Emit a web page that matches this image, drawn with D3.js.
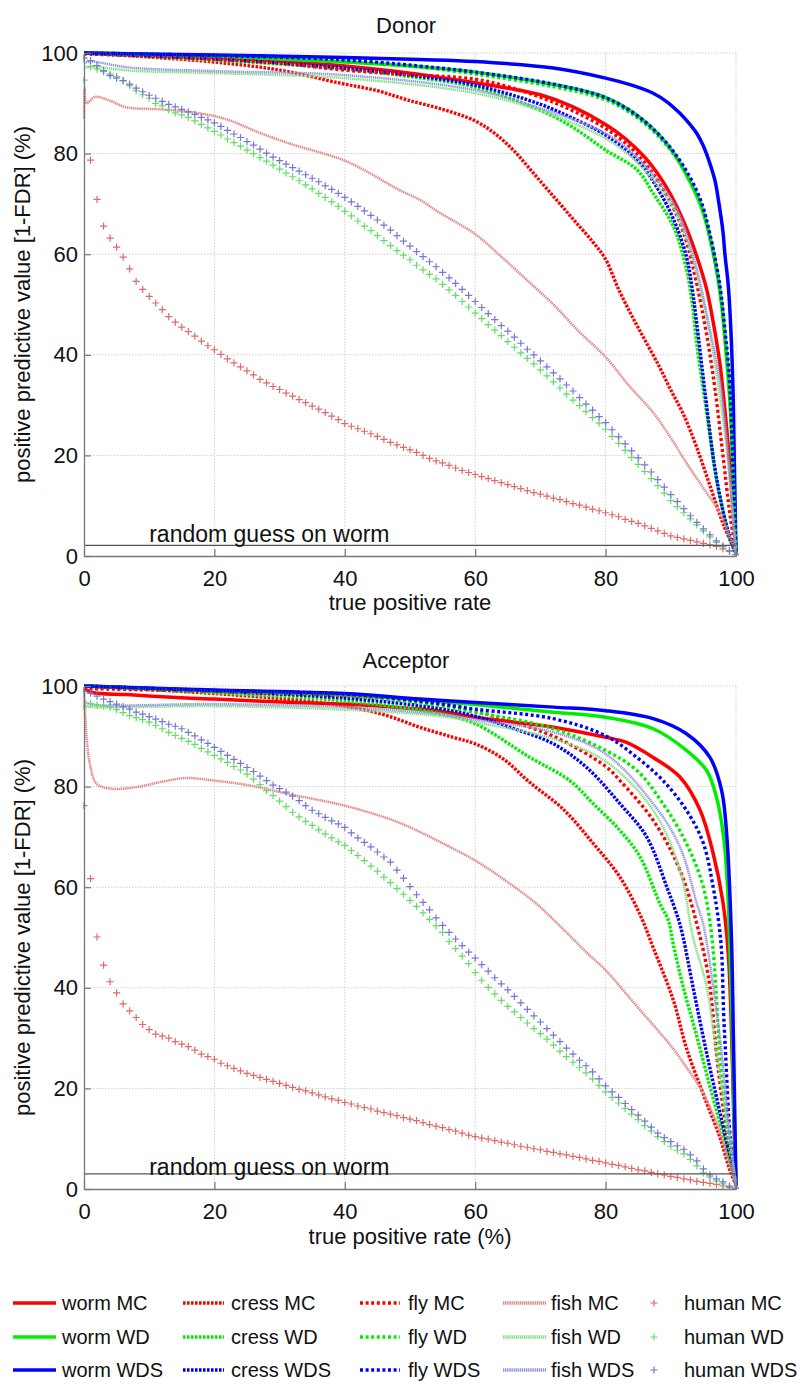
<!DOCTYPE html>
<html>
<head>
<meta charset="utf-8">
<script src="https://cdn.jsdelivr.net/npm/d3@7"></script>
<style>
body { margin: 0; background: #fff; }
text { font-family: "Liberation Sans", Arial, sans-serif; fill: #111; }
</style>
</head>
<body>
<div id="chart"></div>
<script>
// ---------------- data ----------------
const xTicks = [0, 20, 40, 60, 80, 100];
const yTicks = [0, 20, 40, 60, 80, 100];
const randomGuessDonor = 2.1;
const randomGuessAcceptor = 3.0;

// Donor curves, [true positive rate, PPV]
const donorWormMC = [[0,100],[10,99.6],[20,99.1],[30,98.4],[40,97.4],[50,96],[60,94.1],[65,93],[70,91.7],[75,89.3],[80,85.8],[83,83],[86,79.3],[88,76],[90,71.8],[92,66.4],[94,59.5],[95.5,53],[96.5,46.5],[97.5,38.5],[98.3,29],[99,19],[99.5,10],[100,0.5]];
const donorWormWD = [[0,100],[10,99.7],[20,99.3],[30,98.8],[40,98.2],[50,97.4],[60,96.2],[70,94.2],[75,93],[80,91.2],[84,88.4],[88,84],[90.5,80],[92.5,75.5],[94.5,70],[95.8,64.5],[97,57],[97.8,50],[98.5,40],[99,32],[99.4,22],[99.7,12],[100,0.5]];
const donorWormWDS = [[0,100],[20,99.6],[40,99.1],[51.5,98.7],[60,98.3],[72,97],[80,95],[84,93.6],[87.3,92],[89.5,90.2],[91.4,88],[93,85.7],[94,84],[95,81.5],[96,78],[96.8,74.5],[97.3,70.8],[98,64.5],[98.3,60],[98.8,54],[99.1,48],[99.5,35],[99.75,18],[100,0.5]];
const donorCressMC = [[0,100],[10,99.2],[20,98.2],[30,96.6],[39.3,94],[45,92.5],[49.5,90.7],[55,88.8],[60,86.5],[63,84],[66,80.5],[69,76],[72,71.5],[75,67],[78,62.5],[80,59],[82,53],[84,47.8],[86,43],[88.3,37.5],[90,33],[92,28],[94,21.5],[96,14],[98,6.5],[100,0.5]];
const donorCressWD = [[0,100],[10,99.3],[20,98.6],[30,97.8],[40,96.8],[50,95.3],[60,93.2],[70,88.6],[75,85.2],[80,80.7],[84.8,76.8],[87.3,72.1],[90.4,65.5],[92.4,57],[93.3,50],[94,42],[95.5,28.5],[97,15.2],[98,9],[99.1,3.3],[100,0.5]];
const donorCressWDS = [[0,100],[10,99.4],[20,98.8],[30,98],[40,97],[50,95.6],[60,93.6],[70,89.8],[75,87],[80,83.7],[85,78.5],[88,73],[90.4,67],[92.4,59.5],[93.3,53],[94,46],[95.3,32],[96.7,18],[98,9],[99,4],[100,0.5]];
const donorFlyMC = [[0,99.8],[10,99.4],[20,98.8],[30,98],[40,96.6],[50,95.7],[60,94.8],[65,93.3],[70,91.2],[75,88.5],[80,85],[84,81],[87,76.5],[89,72.5],[91,67.5],[92.5,62],[94,54],[95.5,44],[96.8,33],[98,20],[99,9],[100,0.5]];
const donorFlyWD = [[0,100],[20,99.4],[39,98.5],[51.5,97.2],[60,95.8],[72,93.3],[80,90.7],[84.8,87.2],[88.8,82.5],[91.9,77],[94.5,70.3],[96,63],[97.5,53],[98.2,45],[99,33],[99.6,15],[100,0.5]];
const donorFlyWDS = [[0,100],[20,99.5],[39,98.7],[51.5,97.4],[60,96.2],[72,93.8],[80,91.1],[84.8,87.6],[88.8,82.9],[91.9,77.6],[94.5,71],[96,64],[97.5,54],[98.3,45],[99,35],[99.6,15],[100,0.5]];
const donorFishMC = [[0,87],[0.1,93],[0.4,90],[1.7,91.3],[4,90.5],[6.5,89.2],[11.7,88.8],[17.8,88],[21.9,86.8],[27,84.1],[32,81.8],[36,80.3],[40,78.6],[44,76],[48,73],[51.5,70.8],[54.6,68.2],[60,64],[64,59.5],[67.9,54.9],[72,50],[76,44.5],[79.9,39.7],[83.5,34],[87.3,28.5],[90,23.5],[92.4,18.5],[95,13.5],[97.5,8.6],[99,4],[100,0.7]];
const donorFishWD = [[0,97],[1,97.3],[7,96.5],[20,96],[40,95],[60,92],[70,88.5],[80,83],[85,78],[90,70],[92,64.5],[94,56],[96,44],[97.5,32],[98.5,22],[99.5,8],[100,0.5]];
const donorFishWDS = [[0,98],[1,98.3],[7,97.1],[20,96.4],[40,95.6],[60,92.6],[70,89],[80,84],[85,79],[90,71],[92,65.5],[94,57],[96,45],[97.5,35],[98.5,24],[99.5,9],[100,0.5]];

// Donor human markers, one value per percent of true positive rate (index = x)
const donorHumanMC = [null,78.7,70.9,65.6,63.2,61.4,59.4,57.1,54.6,53.0,51.6,50.3,49.0,47.6,46.5,45.5,44.6,43.7,42.7,41.8,41.0,40.1,39.2,38.4,37.6,36.8,36.0,35.1,34.4,33.7,33.1,32.4,31.8,31.1,30.5,29.8,29.2,28.5,27.8,27.1,26.3,25.8,25.3,24.8,24.3,23.8,23.2,22.6,22.1,21.6,21.1,20.6,20.0,19.4,18.9,18.5,18.0,17.5,17.0,16.6,16.2,15.8,15.4,15.0,14.6,14.2,13.8,13.4,13.0,12.6,12.3,11.9,11.5,11.2,10.8,10.4,10.1,9.7,9.3,9.0,8.6,8.2,7.8,7.3,6.9,6.5,6.0,5.5,5.0,4.5,4.0,3.7,3.4,3.1,2.8,2.5,2.2,1.9,1.4,0.9,0.3];
const donorHumanWD = [94.6,97.3,96.8,96.3,95.8,95.3,94.5,93.5,92.5,91.7,91.0,90.0,89.5,88.7,88.1,87.7,87.2,86.5,85.8,85.1,84.4,83.7,82.9,82.2,81.5,80.7,80.0,79.2,78.5,77.7,76.9,76.1,75.4,74.6,73.8,73.0,72.1,71.3,70.4,69.5,68.5,67.6,66.6,65.6,64.7,63.7,62.7,61.7,60.7,59.8,58.9,57.8,56.9,56.0,55.1,54.0,52.9,51.8,50.6,49.5,48.3,47.2,46.0,44.9,43.8,42.6,41.5,40.4,39.3,38.2,37.0,35.8,34.6,33.4,32.2,31.0,29.9,28.7,27.5,26.4,25.2,23.8,22.4,21.0,19.6,18.2,16.8,15.4,14.0,12.5,11.0,9.8,8.6,7.4,6.2,5.0,3.8,2.7,1.8,1.0,0.2];
const donorHumanWDS = [99,98.5,97.5,96.5,95.5,95.0,94.5,93.8,93.0,92.3,91.6,91.0,90.4,89.8,89.3,88.8,88.3,87.8,87.2,86.7,86.1,85.4,84.6,83.9,83.2,82.4,81.7,80.9,80.1,79.3,78.6,77.9,77.2,76.5,75.8,75.1,74.4,73.6,72.9,72.1,71.3,70.4,69.5,68.6,67.7,66.8,65.8,64.8,63.7,62.6,61.6,60.5,59.5,58.5,57.5,56.4,55.3,54.2,53.0,51.8,50.6,49.4,48.2,47.0,45.8,44.7,43.5,42.3,41.1,40.0,38.8,37.6,36.4,35.2,34.0,32.8,31.5,30.2,29.0,27.7,26.5,25.1,23.7,22.3,20.9,19.5,18.1,16.7,15.2,13.7,12.2,10.8,9.4,8.0,6.7,5.4,4.2,3.0,2.0,1.0,0.3];

// Acceptor curves
const accWormMC = [[0,99.5],[1.2,98.7],[6.5,98.3],[14.2,97.7],[20,97.4],[32.1,96.7],[40,96.4],[47.4,95.8],[54.6,95],[60,93.8],[72,91.8],[80,89.8],[83.2,88.8],[87.3,85.8],[91.4,81.9],[94.5,75.3],[96.5,66.7],[98,57],[98.8,47],[99.3,32],[99.7,12],[100,0.8]];
const accWormWD = [[0,100],[20,99],[40,98.2],[51.5,97.2],[60,96.3],[72,94.8],[80,93.8],[87.3,91.5],[92.4,87.2],[95.5,83.2],[97,77.9],[98.1,70],[98.7,60],[99,50],[99.4,33],[99.7,15],[100,0.8]];
const accWormWDS = [[0,100],[20,99.2],[40,98.5],[51.5,97.4],[60,96.7],[72,95.8],[80,95.1],[87.3,93.5],[92.4,90.5],[96,85.8],[97.8,79.2],[98.6,70],[99.3,50],[99.6,30],[99.85,12],[100,0.5]];
const accCressMC = [[0,100],[10,99.3],[20,98.5],[30,97.5],[40,96],[46,94.3],[51.5,91.8],[56.6,89.8],[60,88.5],[64.3,85.5],[68.4,80.8],[73.5,75.5],[78.1,68.7],[82.2,62],[85.3,54.5],[87.3,48],[90.4,37.5],[92.4,28],[95.5,17.1],[97.5,10.4],[99,4],[100,0.8]];
const accCressWD = [[0,100],[20,98.7],[40,97],[54.6,94.5],[60,92.5],[68.4,85.8],[74.5,81.2],[78.1,76.6],[82.2,71.3],[85.3,66],[88.3,56.8],[89.6,53.5],[90.4,48.5],[91.9,40.2],[94,30.3],[96,20.4],[98.1,10.4],[100,0.8]];
const accCressWDS = [[0,100],[20,99],[40,97.6],[54.6,95.5],[60,94],[66,91.5],[72,88.5],[77.1,83.8],[82.2,76.6],[86.3,70],[89.4,60],[91.2,53.5],[91.9,50],[93.4,40.2],[95.5,27],[97.8,13.7],[100,0.8]];
const accFlyMC = [[0,99.5],[20,98.9],[40,98],[54.6,96.4],[60,95],[72,90],[80,84],[82.2,81.2],[87.3,73.3],[91.4,63.4],[94.5,50.1],[96,40.2],[97,27],[98.3,13.7],[100,0.8]];
const accFlyWD = [[0,100],[20,99],[40,98.2],[51.5,96.6],[60,94.8],[72,91.5],[80,87.2],[84.8,83.2],[88.8,76.6],[92.4,68.7],[95,60],[96.3,50],[97,38],[97.5,27],[98.8,10.4],[100,0.8]];
const accFlyWDS = [[0,100],[20,99.1],[40,98.4],[51.5,97],[60,95.4],[72,93.5],[80,90.1],[84.8,85.8],[88.8,81.2],[92.4,75.3],[95,68.7],[96.5,60],[97.3,53.5],[97.8,47],[98.1,35],[98.4,27],[99.1,10.4],[100,0.8]];
const accFishMC = [[0,99],[0.2,94],[0.4,89.8],[0.9,84.5],[1.9,80.6],[4,79.6],[8.1,79.9],[11.7,80.9],[15.7,81.7],[20,81.2],[25.5,80.2],[31.1,78.6],[40,76.2],[47.4,73.3],[51.5,71],[54.6,69],[60,65.3],[65,61],[69.4,56.7],[74,51],[77.1,47],[80,43.5],[85,36],[90,28.5],[92.5,24],[95,19],[97.5,11.5],[99,5],[100,0.7]];
const accFishWD = [[0,96],[0.9,95.8],[20,96],[40,95.3],[54.6,94],[60,92.8],[72,89.5],[80,85],[87.3,75.3],[91.4,63.4],[93.4,50.1],[95.5,40.2],[97,27],[98.6,13.7],[100,0.8]];
const accFishWDS = [[0,97],[0.9,96.4],[20,96.4],[40,95.8],[54.6,94.4],[60,93.3],[72,90.8],[80,86.5],[87.3,76.6],[91.4,68],[94,56.7],[95,52.5],[96.5,40.2],[97.8,27],[98.8,13.7],[100,0.8]];

const accHumanMC = [76.2,61.7,50.1,44.5,41.2,39.0,36.8,35.4,34.1,32.7,31.7,30.8,30.4,30.0,29.3,28.8,28.3,27.6,26.8,26.3,25.8,25.0,24.5,24.0,23.5,23.0,22.6,22.2,21.8,21.4,21.0,20.6,20.2,19.8,19.5,19.1,18.7,18.3,17.9,17.6,17.2,16.9,16.5,16.2,15.9,15.5,15.2,14.9,14.6,14.2,13.9,13.6,13.2,12.8,12.5,12.2,11.8,11.5,11.1,10.7,10.4,10.1,9.9,9.6,9.3,9.1,8.8,8.5,8.3,8.0,7.8,7.5,7.3,7.0,6.8,6.5,6.3,6.0,5.7,5.5,5.2,4.9,4.7,4.4,4.1,3.8,3.6,3.3,3.0,2.8,2.5,2.3,2.0,1.8,1.5,1.3,1.1,0.9,0.6,0.3,0.1];
const accHumanWD = [96,96.5,96.2,96.0,95.8,95.3,94.7,94.1,93.7,93.3,92.8,92.2,91.5,90.8,90.2,89.6,89.0,88.4,87.6,86.9,86.2,85.5,84.8,84.0,83.3,82.5,81.5,80.4,79.2,78.2,77.1,76.0,74.9,74.0,73.1,72.3,71.4,70.6,69.8,69.0,68.3,67.3,66.3,65.3,64.2,63.2,62.0,60.9,59.7,58.6,57.4,56.2,54.9,53.6,52.3,51.0,49.2,47.8,46.3,44.8,43.0,41.5,40.1,38.8,37.5,36.3,35.2,34.1,33.0,31.9,30.9,29.8,28.6,27.4,26.3,25.2,24.2,23.1,21.9,20.6,19.3,18.2,17.1,16.0,14.9,13.8,12.6,11.5,10.4,9.4,8.5,7.7,7.0,5.9,4.6,3.2,2.4,1.6,1.0,0.5,0.2];
const accHumanWDS = [99,98.6,98.0,97.4,96.9,96.4,95.9,95.4,94.8,94.4,93.9,93.4,92.9,92.4,92.0,91.5,90.8,90.1,89.3,88.6,87.8,87.0,86.2,85.4,84.6,83.8,83.0,82.1,81.2,80.3,79.6,78.9,78.1,77.2,76.2,75.3,74.6,73.9,73.2,72.6,71.9,70.8,69.8,68.9,68.0,67.0,66.0,65.0,63.4,61.8,60.1,58.5,57.0,55.5,53.9,52.4,51.0,49.7,48.4,47.1,45.9,44.6,43.3,42.0,40.8,39.6,38.3,37.0,35.7,34.4,33.2,31.9,30.6,29.3,28.0,26.8,25.6,24.5,23.3,21.9,20.5,19.3,18.2,17.0,15.8,14.7,13.5,12.3,11.1,10.2,9.4,8.6,7.9,6.8,5.6,4.0,2.8,2.0,1.4,0.6,0.2];

const organisms = ["worm", "cress", "fly", "fish", "human"];
const models = ["MC", "WD", "WDS"];

// ---------------- styles ----------------
const pure = {MC: "#ff0000", WD: "#00ee00", WDS: "#0000ff"};
const pale = {MC: "#e08888", WD: "#84e084", WDS: "#9494e2"};
const marker = {MC: "#e06a6a", WD: "#66dd66", WDS: "#7777d6"};

function styleOf(org, mod) {
    if (org === "worm") return {color: pure[mod], width: 3.5, dash: null};
    if (org === "cress") return {color: pure[mod], width: 3.4, dash: "2.6,1.4"};
    if (org === "fly") return {color: pure[mod], width: 3.4, dash: "3,2.6"};
    if (org === "fish") return {color: pale[mod], width: 2.5, dash: "1.4,0.7"};
    return {color: marker[mod], marker: true};
}

const W = 800, H = 1385;
const svg = d3.select("#chart").append("svg")
    .attr("width", W)
    .attr("height", H);

const plusPath = "M-3.6,0H3.6M0,-3.6V3.6";

function drawPanel(cfg) {
    let x = d3.scaleLinear().domain([0, 100]).range([84, 736]);
    let y = d3.scaleLinear().domain([0, 100]).range([cfg.y0, cfg.y100]);

    let g = svg.append("g");

    // grid (dotted, light)
    g.selectAll(".gx").data(xTicks.slice(1)).join("line")
        .attr("x1", d => x(d)).attr("x2", d => x(d))
        .attr("y1", y(0)).attr("y2", y(100))
        .style("stroke", "#cfcfcf").style("stroke-dasharray", "1.5,1.5");
    g.selectAll(".gy").data(yTicks.slice(1)).join("line")
        .attr("x1", x(0)).attr("x2", x(100))
        .attr("y1", d => y(d)).attr("y2", d => y(d))
        .style("stroke", "#cfcfcf").style("stroke-dasharray", "1.5,1.5");

    // clip for the curves
    g.append("clipPath").attr("id", "clip" + cfg.id)
        .append("rect")
        .attr("x", x(0) - 1).attr("y", y(100) - 2)
        .attr("width", x(100) - x(0) + 4).attr("height", y(0) - y(100) + 3);

    let plot = g.append("g").attr("clip-path", "url(#clip" + cfg.id + ")");

    let line = d3.line()
        .x(d => x(d[0]))
        .y(d => y(d[1]))
        .curve(d3.curveCatmullRom.alpha(0.5));

    organisms.forEach(org => {
        models.forEach(mod => {
            let s = styleOf(org, mod);
            let data = cfg.series[org + mod];
            if (s.marker) {
                let pts = data.map((v, i) => [i, v]).filter(d => d[1] !== null);
                plot.selectAll(null).data(pts).join("path")
                    .attr("d", plusPath)
                    .attr("transform", d => "translate(" + x(d[0]) + "," + y(d[1]) + ")")
                    .style("stroke", s.color).style("stroke-width", 1.2)
                    .style("fill", "none");
            } else {
                plot.append("path")
                    .datum(data)
                    .attr("d", line)
                    .style("fill", "none")
                    .style("stroke", s.color)
                    .style("stroke-width", s.width)
                    .style("stroke-dasharray", s.dash)
                    .style("stroke-linejoin", "round");
            }
        });
    });

    // random guess line
    g.append("line")
        .attr("x1", x(0)).attr("x2", x(100))
        .attr("y1", y(cfg.guess)).attr("y2", y(cfg.guess))
        .style("stroke", "#555").style("stroke-width", 1.2);
    g.append("text")
        .attr("x", x(10)).attr("y", y(2.7))
        .style("font-size", "23px")
        .text("random guess on worm");

    // axes
    let yAxis = d3.axisLeft(y).tickValues(yTicks).tickSizeInner(-7).tickSizeOuter(0).tickPadding(6);
    let xAxis = d3.axisBottom(x).tickValues(xTicks).tickSizeInner(-7).tickSizeOuter(0).tickPadding(14);

    let ya = g.append("g").attr("transform", "translate(" + x(0) + ",0)").call(yAxis);
    let xa = g.append("g").attr("transform", "translate(0," + y(0) + ")").call(xAxis);
    [ya, xa].forEach(a => {
        a.select(".domain").style("stroke", "#777").style("stroke-width", 1.3);
        a.selectAll(".tick line").style("stroke", "#777").style("stroke-width", 1.2);
        a.selectAll(".tick text")
            .style("font-size", "22px")
            .style("font-family", "'Liberation Sans', Arial, sans-serif")
            .style("fill", "#111");
    });

    // titles
    g.append("text")
        .attr("x", 406).attr("y", cfg.titleY)
        .attr("text-anchor", "middle")
        .style("font-size", "22px")
        .text(cfg.title);
    g.append("text")
        .attr("x", 410).attr("y", cfg.xTitleY)
        .attr("text-anchor", "middle")
        .style("font-size", "22px")
        .text(cfg.xTitle);
    g.append("text")
        .attr("transform", "translate(22," + ((y(0) + y(100)) / 2) + ") rotate(-90)")
        .attr("text-anchor", "middle")
        .attr("dy", "0.35em")
        .style("font-size", "22px")
        .text("positive predictive value [1-FDR] (%)");
}

drawPanel({
    id: "donor", y0: 556, y100: 53, guess: randomGuessDonor,
    title: "Donor", titleY: 33, xTitle: "true positive rate", xTitleY: 610,
    series: {
        wormMC: donorWormMC, wormWD: donorWormWD, wormWDS: donorWormWDS,
        cressMC: donorCressMC, cressWD: donorCressWD, cressWDS: donorCressWDS,
        flyMC: donorFlyMC, flyWD: donorFlyWD, flyWDS: donorFlyWDS,
        fishMC: donorFishMC, fishWD: donorFishWD, fishWDS: donorFishWDS,
        humanMC: donorHumanMC, humanWD: donorHumanWD, humanWDS: donorHumanWDS
    }
});

drawPanel({
    id: "acceptor", y0: 1189, y100: 686, guess: randomGuessAcceptor,
    title: "Acceptor", titleY: 668, xTitle: "true positive rate (%)", xTitleY: 1244,
    series: {
        wormMC: accWormMC, wormWD: accWormWD, wormWDS: accWormWDS,
        cressMC: accCressMC, cressWD: accCressWD, cressWDS: accCressWDS,
        flyMC: accFlyMC, flyWD: accFlyWD, flyWDS: accFlyWDS,
        fishMC: accFishMC, fishWD: accFishWD, fishWDS: accFishWDS,
        humanMC: accHumanMC, humanWD: accHumanWD, humanWDS: accHumanWDS
    }
});

// ---------------- legend ----------------
const legendRows = [1303, 1337, 1370];
const legendCols = {
    worm: {x1: 13, x2: 56, tx: 62},
    cress: {x1: 183, x2: 224, tx: 231},
    fly: {x1: 360, x2: 400, tx: 408},
    fish: {x1: 503, x2: 546, tx: 551},
    human: {x1: 654, x2: 654, tx: 684}
};

let legend = svg.append("g");
organisms.forEach(org => {
    models.forEach((mod, i) => {
        let c = legendCols[org];
        let s = styleOf(org, mod);
        let ly = legendRows[i];
        if (s.marker) {
            legend.append("path")
                .attr("d", plusPath)
                .attr("transform", "translate(" + c.x1 + "," + ly + ")")
                .style("stroke", s.color).style("stroke-width", 1.2).style("fill", "none");
        } else {
            legend.append("line")
                .attr("x1", c.x1).attr("x2", c.x2)
                .attr("y1", ly).attr("y2", ly)
                .style("stroke", s.color)
                .style("stroke-width", org === "fish" ? 3.5 : s.width)
                .style("stroke-dasharray", s.dash);
        }
        legend.append("text")
            .attr("x", c.tx).attr("y", ly + 7)
            .style("font-size", "20px")
            .text(org + " " + mod);
    });
});
</script>
</body>
</html>
